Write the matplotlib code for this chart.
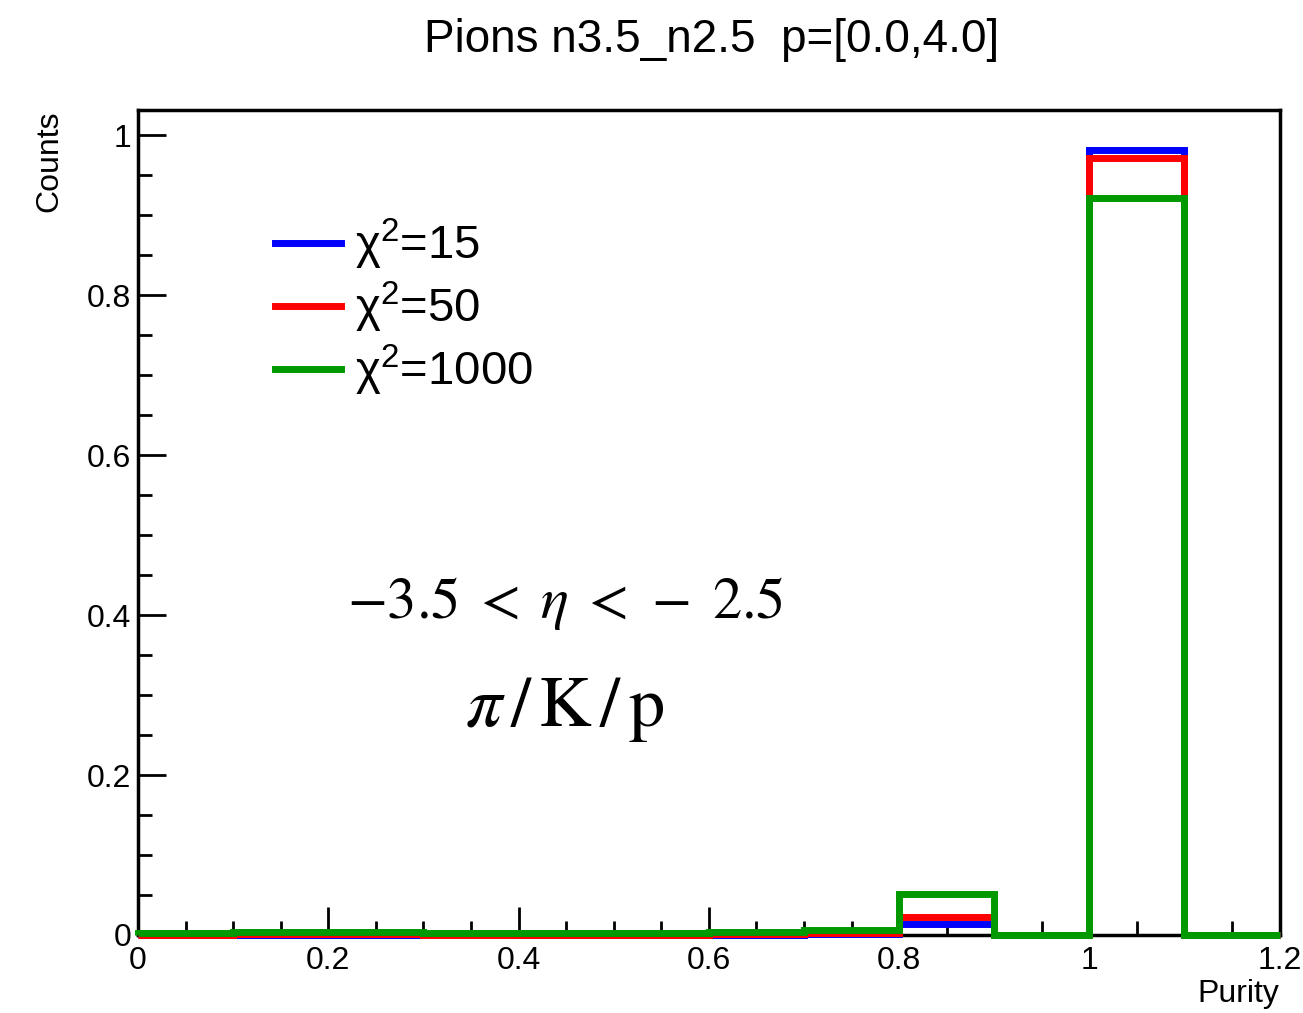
import numpy as np
import matplotlib
matplotlib.use("Agg")
import matplotlib.pyplot as plt
from matplotlib.ticker import MultipleLocator, FuncFormatter

plt.rcParams['font.family'] = ['Liberation Sans', 'DejaVu Sans']
plt.rcParams['mathtext.fontset'] = 'custom'
plt.rcParams['mathtext.rm'] = 'Liberation Sans'
plt.rcParams['mathtext.it'] = 'Liberation Sans'

# histogram bins (purity) and normalised counts
edges = np.round(np.arange(0, 1.21, 0.1), 2)
chi15 = [0.0, 0.0, 0.0, 0.001, 0.0, 0.0, 0.0, 0.001, 0.014, 0.0, 0.981, 0.0]
chi50 = [0.0, 0.001, 0.001, 0.0, 0.0, 0.0, 0.001, 0.003, 0.022, 0.0, 0.972, 0.0]
chi1000 = [0.002, 0.004, 0.004, 0.002, 0.002, 0.002, 0.004, 0.006, 0.051, 0.0, 0.922, 0.0]
labels = ["χ$^{2}$=15", "χ$^{2}$=50", "χ$^{2}$=1000"]
colors = ["#0000ff", "#ff0000", "#009900"]

fig = plt.figure(figsize=(13.03, 10.13), dpi=100)
ax = fig.add_axes([0.106, 0.077, 0.876, 0.814])

for vals, col, lab in zip([chi15, chi50, chi1000], colors, labels):
	ax.stairs(vals, edges, color=col, lw=5, label=lab, clip_on=False, zorder=3)

ax.set_xlim(0, 1.2)
ax.set_ylim(0, 1.031)

# ROOT-like ticks
ax.xaxis.set_major_locator(MultipleLocator(0.2))
ax.xaxis.set_minor_locator(MultipleLocator(0.05))
ax.yaxis.set_major_locator(MultipleLocator(0.2))
ax.yaxis.set_minor_locator(MultipleLocator(0.05))
fmt = FuncFormatter(lambda v, p: ("%g" % round(v, 2)))
ax.xaxis.set_major_formatter(fmt)
ax.yaxis.set_major_formatter(fmt)
ax.tick_params(which='both', direction='in', top=False, right=False, width=2, labelsize=23)
ax.tick_params(which='major', length=20)
ax.tick_params(which='minor', length=10)
ax.tick_params(axis='x', pad=8)
ax.tick_params(axis='y', pad=5)
for s in ax.spines.values():
	s.set_linewidth(2.5)

ax.set_xlabel("Purity", fontsize=23, loc='right', labelpad=2)
ax.set_ylabel("Counts", fontsize=23, loc='top', labelpad=16)

fig.text(0.546, 0.961, "Pions n3.5_n2.5  p=[0.0,4.0]", fontsize=33, ha='center', va='center')

ax.text(0.374, 0.402, r"$-3.5\;<\;\eta\;<\,-\;2.5$", transform=ax.transAxes, fontsize=42,
	ha='center', va='center', math_fontfamily='stix')
ax.text(0.374, 0.273, r"$\pi\,/\,\mathrm{K}\,/\,\mathrm{p}$", transform=ax.transAxes, fontsize=52,
	ha='center', va='center', math_fontfamily='stix')

ax.legend(loc='center left', bbox_to_anchor=(0.12, 0.761), frameon=False, fontsize=34,
	handlelength=1.4, handletextpad=0.3, labelspacing=0.17, borderaxespad=0, borderpad=0)

fig.savefig("out.png", dpi=100)
